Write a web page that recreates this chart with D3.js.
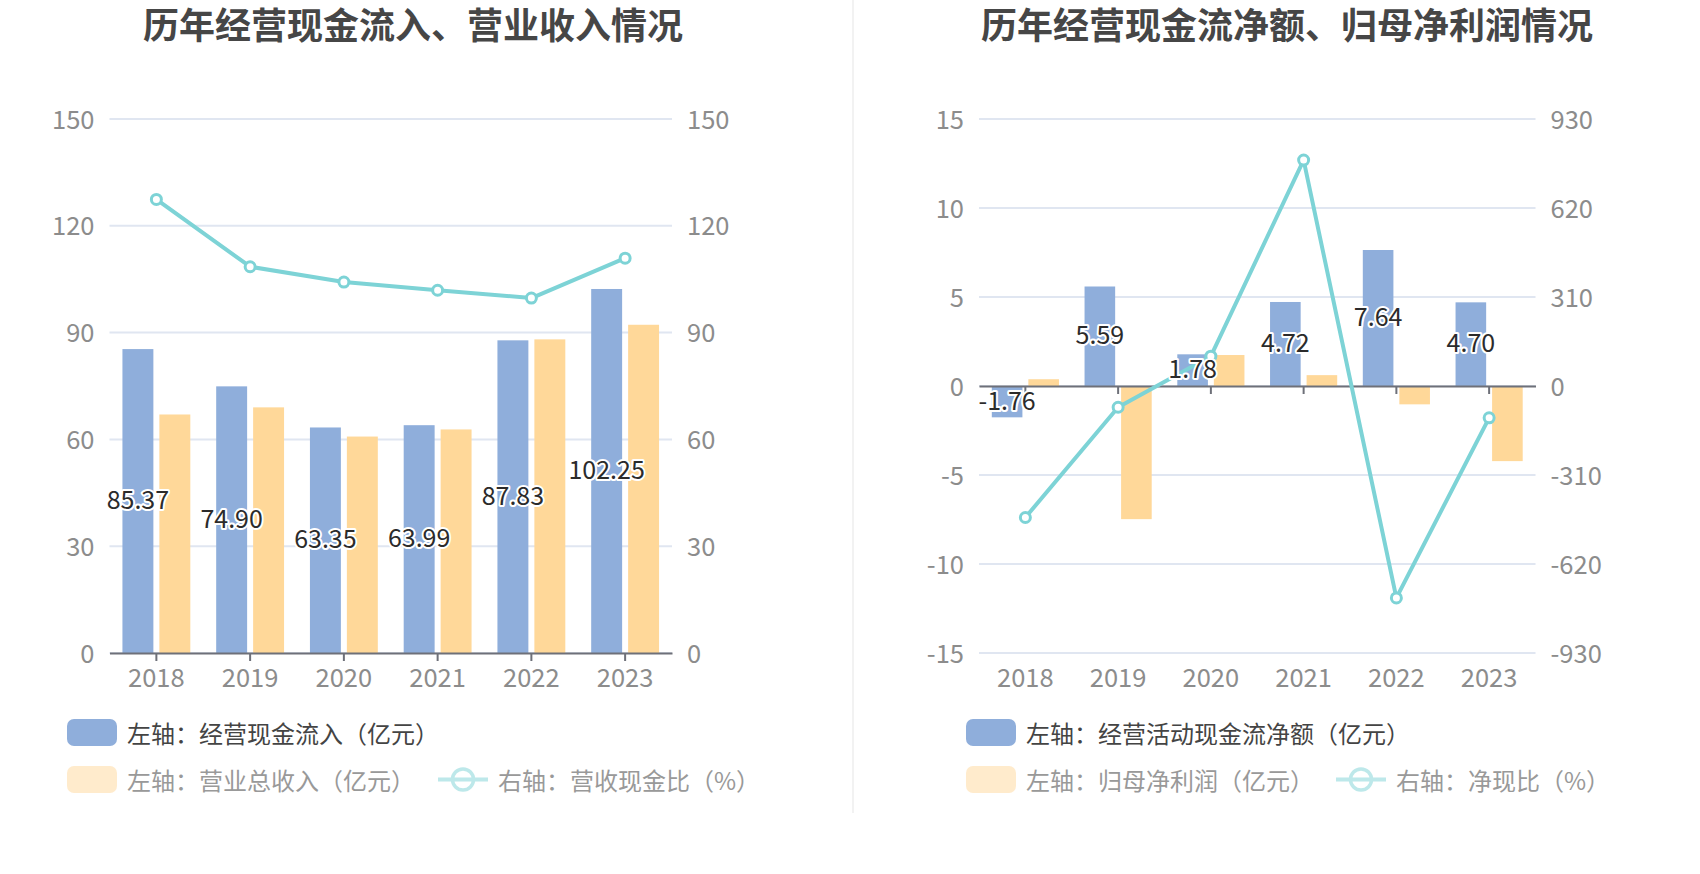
<!DOCTYPE html>
<html><head><meta charset="utf-8">
<script src="https://cdn.jsdelivr.net/npm/d3@7"></script>
<style>body{margin:0;background:#fff;} svg{display:block;} text{font-family:"Noto Sans CJK SC","Noto Sans",sans-serif;}</style>
</head><body><svg id="c" width="1700" height="874"></svg>
<script>
// ---------- data ----------
const years = ["2018","2019","2020","2021","2022","2023"];
// panel 1
const cashInflow = [85.37, 74.90, 63.35, 63.99, 87.83, 102.25];
const revenue = [67.0, 69.0, 60.8, 62.8, 88.1, 92.2];
const cashRevenueRatio = [127.4, 108.5, 104.2, 101.9, 99.7, 110.9];
const leftTicks1 = [0, 30, 60, 90, 120, 150];
const rightTicks1 = [0, 30, 60, 90, 120, 150];
// panel 2
const netCashFlow = [-1.76, 5.59, 1.78, 4.72, 7.64, 4.70];
const netProfit = [0.38, -7.48, 1.74, 0.61, -1.03, -4.22];
const netCashRatio = [-458, -74, 104, 787, -738, -111];
const leftTicks2 = [-15, -10, -5, 0, 5, 10, 15];
const rightTicks2 = [-930, -620, -310, 0, 310, 620, 930];

const title1 = "历年经营现金流入、营业收入情况";
const title2 = "历年经营现金流净额、归母净利润情况";
const legend1 = ["左轴：经营现金流入（亿元）", "左轴：营业总收入（亿元）", "右轴：营收现金比（%）"];
const legend2 = ["左轴：经营活动现金流净额（亿元）", "左轴：归母净利润（亿元）", "右轴：净现比（%）"];

// ---------- style ----------
const C_BLUE = "#8FAEDB", C_YEL = "#FFD899", C_LINE = "#7DD3D6", C_GRID = "#E0E6F1",
      C_AXIS = "#6E7079", C_LBL = "#8C8C8C", C_TITLE = "#464646";
const Y_TOP = 119, Y_BOT = 653;
const AX_FS = 25.5;

const svg = d3.select("#c");

// separator
svg.append("line").attr("x1", 853).attr("x2", 853).attr("y1", 0).attr("y2", 813)
  .attr("stroke", "#EEEEEE").attr("stroke-width", 1.5);

function panel(cfg) {
  const g = svg.append("g");
  const x = d3.scaleBand().domain(years).range([cfg.x0, cfg.x1]);
  const yL = d3.scaleLinear().domain(d3.extent(cfg.leftTicks)).range([Y_BOT, Y_TOP]);
  const yR = d3.scaleLinear().domain(d3.extent(cfg.rightTicks)).range([Y_BOT, Y_TOP]);
  const cx = d => x(d) + x.bandwidth() / 2;
  const bw = x.bandwidth() * 0.33, gap = x.bandwidth() * 0.064;

  // title
  g.append("text").attr("x", cfg.titleX).attr("y", 22.5)
    .attr("text-anchor", "middle").attr("dominant-baseline", "central")
    .attr("font-size", 36).attr("font-weight", "bold").attr("fill", C_TITLE).text(cfg.title);

  // grid
  g.append("g").selectAll("line").data(cfg.leftTicks).join("line")
    .attr("x1", cfg.x0).attr("x2", cfg.x1).attr("y1", d => yL(d)).attr("y2", d => yL(d))
    .attr("stroke", C_GRID).attr("stroke-width", 2);

  // y axes
  const fmt = d => String(d);
  const ax = g.append("g").attr("transform", `translate(${cfg.x0},0)`)
    .call(d3.axisLeft(yL).tickValues(cfg.leftTicks).tickFormat(fmt).tickSize(0).tickPadding(15));
  const ar = g.append("g").attr("transform", `translate(${cfg.x1},0)`)
    .call(d3.axisRight(yR).tickValues(cfg.rightTicks).tickFormat(fmt).tickSize(0).tickPadding(15));
  [ax, ar].forEach(a => {
    a.select(".domain").remove();
    a.selectAll("text").attr("font-size", AX_FS).attr("fill", C_LBL).attr("dy", -2.5)
      .attr("dominant-baseline", "central").attr("font-family", null);
  });

  // x labels at bottom
  const xl = g.append("g").attr("transform", `translate(0,${Y_BOT})`)
    .call(d3.axisBottom(x).tickSize(0));
  xl.select(".domain").remove();
  xl.selectAll("text").attr("y", 22).attr("dy", null).attr("dominant-baseline", "central")
    .attr("font-size", AX_FS).attr("fill", C_LBL).attr("font-family", null);

  // bars
  const z = yL(0);
  g.append("g").selectAll("rect").data(cfg.bar1).join("rect")
    .attr("x", (d, i) => cx(years[i]) - gap / 2 - bw).attr("width", bw)
    .attr("y", d => yL(Math.max(0, d))).attr("height", d => Math.abs(yL(d) - z))
    .attr("fill", C_BLUE);
  g.append("g").selectAll("rect").data(cfg.bar2).join("rect")
    .attr("x", (d, i) => cx(years[i]) + gap / 2).attr("width", bw)
    .attr("y", d => yL(Math.max(0, d))).attr("height", d => Math.abs(yL(d) - z))
    .attr("fill", C_YEL);

  // zero axis line with ticks
  const xa = g.append("g").attr("transform", `translate(0,${z})`)
    .call(d3.axisBottom(x).tickSizeInner(8).tickSizeOuter(0).tickFormat(""));
  xa.select(".domain").attr("stroke", C_AXIS).attr("stroke-width", 2);
  xa.selectAll(".tick line").attr("stroke", C_AXIS).attr("stroke-width", 2);

  // line
  const line = d3.line().x((d, i) => cx(years[i])).y(d => yR(d));
  g.append("path").datum(cfg.line).attr("d", line).attr("fill", "none")
    .attr("stroke", C_LINE).attr("stroke-width", 4).attr("stroke-linejoin", "round");
  g.append("g").selectAll("circle").data(cfg.line).join("circle")
    .attr("cx", (d, i) => cx(years[i])).attr("cy", d => yR(d)).attr("r", 5)
    .attr("fill", "#fff").attr("stroke", C_LINE).attr("stroke-width", 3);

  // bar labels
  g.append("g").selectAll("text").data(cfg.bar1).join("text")
    .attr("x", (d, i) => cx(years[i]) - gap / 2 - bw / 2)
    .attr("y", d => (yL(d) + z) / 2 - 3)
    .attr("text-anchor", "middle").attr("dominant-baseline", "central")
    .attr("font-size", 25).attr("fill", "#2b2b2b")
    .attr("stroke", "#fff").attr("stroke-width", 4).attr("paint-order", "stroke")
    .attr("stroke-linejoin", "round")
    .text(d => d.toFixed(2));

  // legend
  const lg = g.append("g");
  const r1 = 732.5, r2 = 779.5;
  lg.append("rect").attr("x", cfg.lx).attr("y", r1 - 13.5).attr("width", 50).attr("height", 27)
    .attr("rx", 7).attr("fill", C_BLUE);
  lg.append("text").attr("x", cfg.lx + 60).attr("y", r1).attr("dominant-baseline", "central")
    .attr("font-size", 24).attr("fill", "#444").text(cfg.legend[0]);
  lg.append("rect").attr("x", cfg.lx).attr("y", r2 - 13.5).attr("width", 50).attr("height", 27)
    .attr("rx", 7).attr("fill", C_YEL).attr("opacity", 0.5);
  lg.append("text").attr("x", cfg.lx + 60).attr("y", r2).attr("dominant-baseline", "central")
    .attr("font-size", 24).attr("fill", "#999").text(cfg.legend[1]);
  const li = lg.append("g").attr("opacity", 0.5);
  li.append("line").attr("x1", cfg.lx2).attr("x2", cfg.lx2 + 50).attr("y1", r2).attr("y2", r2)
    .attr("stroke", C_LINE).attr("stroke-width", 4);
  li.append("circle").attr("cx", cfg.lx2 + 25).attr("cy", r2).attr("r", 10.5)
    .attr("fill", "none").attr("stroke", C_LINE).attr("stroke-width", 3.5);
  lg.append("text").attr("x", cfg.lx2 + 60).attr("y", r2).attr("dominant-baseline", "central")
    .attr("font-size", 24).attr("fill", "#999").text(cfg.legend[2]);
}

panel({
  title: title1, titleX: 413, x0: 109.5, x1: 672,
  leftTicks: leftTicks1, rightTicks: rightTicks1,
  bar1: cashInflow, bar2: revenue, line: cashRevenueRatio,
  legend: legend1, lx: 67, lx2: 438
});
panel({
  title: title2, titleX: 1287, x0: 979, x1: 1535.5,
  leftTicks: leftTicks2, rightTicks: rightTicks2,
  bar1: netCashFlow, bar2: netProfit, line: netCashRatio,
  legend: legend2, lx: 966, lx2: 1336
});
</script>
</body></html>
